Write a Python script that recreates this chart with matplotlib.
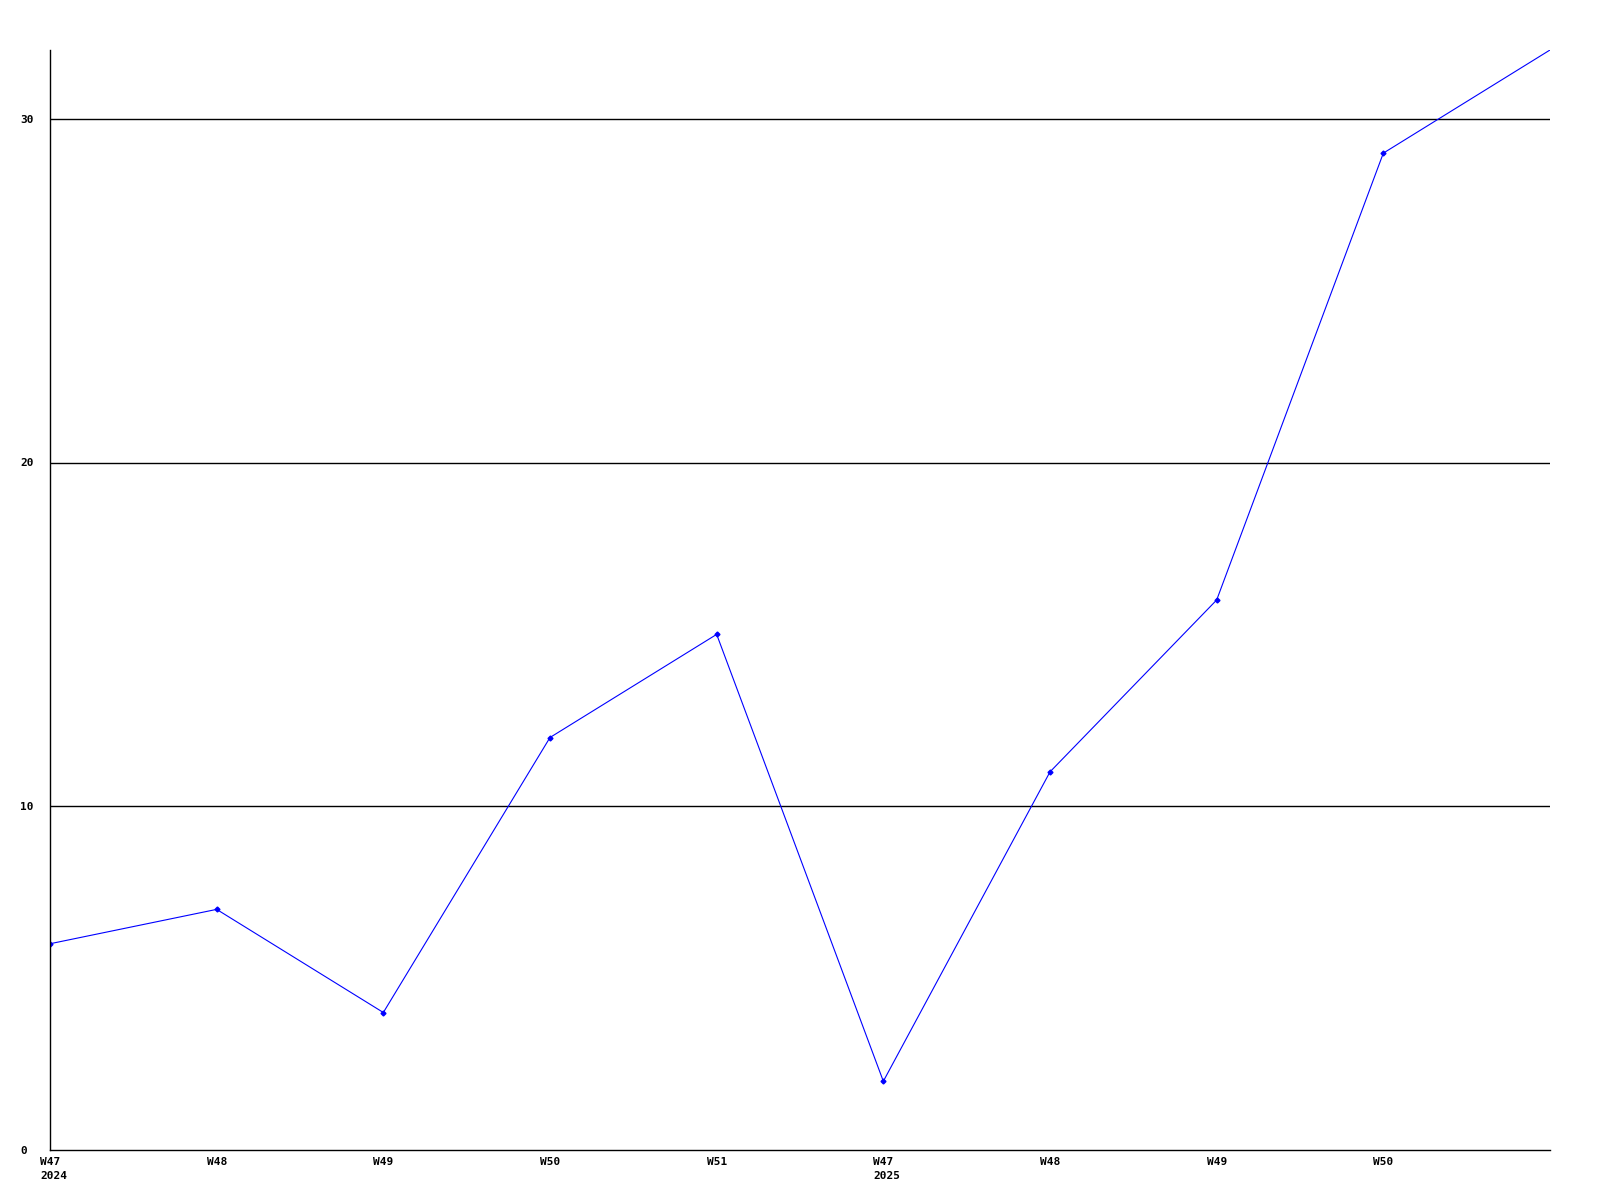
import matplotlib
matplotlib.use("Agg")
import matplotlib.pyplot as plt

# weekly values
weeks = ["W47\n2024", "W48", "W49", "W50", "W51",
         "W47\n2025", "W48", "W49", "W50", ""]
values = [6, 7, 4, 12, 15, 2, 11, 16, 29, 32]
y_ticks = [0, 10, 20, 30]

fig = plt.figure(figsize=(16, 12), dpi=100)
ax = fig.add_axes([50 / 1600, 50 / 1200, 1500 / 1600, 1100 / 1200])

x = list(range(len(values)))
ax.plot(x, values, color="blue", linewidth=0.8, marker="D", markersize=2.5,
        markevery=slice(0, len(values) - 1))

ax.set_xlim(0, len(values) - 1)
ax.set_ylim(0, 32)

for v in y_ticks[1:]:
    ax.axhline(v, color="black", linewidth=1, zorder=0)

ax.set_yticks(y_ticks)
ax.set_yticklabels([str(v) for v in y_ticks], fontfamily="DejaVu Sans Mono",
                   fontweight="bold", fontsize=8)
for lab in ax.get_yticklabels():
    lab.set_horizontalalignment("left")
ax.tick_params(axis="y", length=0, pad=21.6)

ax.set_xticks(x)
ax.set_xticklabels(weeks, fontfamily="DejaVu Sans Mono", fontweight="bold",
                   fontsize=8, linespacing=1.5)
for lab in ax.get_xticklabels():
    lab.set_horizontalalignment("left")
    lab.set_multialignment("left")
ax.tick_params(axis="x", length=0, pad=5)
# shift x labels so they start a bit left of the tick
import matplotlib.transforms as mtransforms
offset = mtransforms.ScaledTranslation(-10 / 100, 0, fig.dpi_scale_trans)
for lab in ax.get_xticklabels():
    lab.set_transform(lab.get_transform() + offset)

ax.spines["top"].set_visible(False)
ax.spines["right"].set_visible(False)
ax.spines["left"].set_linewidth(1)
ax.spines["bottom"].set_linewidth(1)

fig.savefig("out.png", dpi=100)
